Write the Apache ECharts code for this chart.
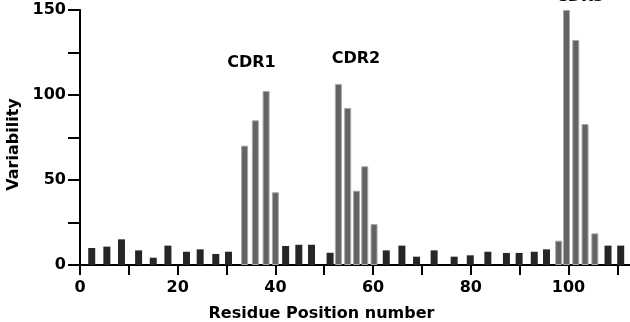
<!DOCTYPE html>
<html>
<head>
<meta charset="utf-8">
<script src="https://cdn.jsdelivr.net/npm/echarts@6/dist/echarts.min.js"></script>
<style>
  html, body { margin: 0; padding: 0; background: #fff; }
  #chart { width: 630px; height: 322px; }
</style>
</head>
<body>
<div id="chart"></div>
<script>
// framework residues (dark bars)
const frameworkPos = [2.4, 5.5, 8.5, 12.0, 15.0, 18.0, 21.8, 24.6, 27.8, 30.4, 42.1, 44.8, 47.4, 51.2,
  62.7, 65.9, 68.9, 72.5, 76.6, 79.9, 83.5, 87.3, 89.9, 93.0, 95.5, 108.1, 110.7];
const frameworkVar = [10.0, 10.8, 15.1, 8.6, 4.3, 11.4, 7.8, 9.2, 6.5, 7.8, 11.2, 11.9, 11.9, 7.2,
  8.6, 11.4, 4.9, 8.6, 4.9, 5.7, 7.8, 7.1, 7.1, 7.8, 9.2, 11.4, 11.4];

// hypervariable residues (grey bars)
const cdrPos = [33.7, 35.9, 38.1, 40.0, 52.9, 54.8, 56.6, 58.3, 60.2, 98.0, 99.6, 101.5, 103.4, 105.4];
const cdrVar = [70.2, 85.1, 102.4, 42.8, 106.5, 92.4, 43.7, 58.1, 24.1, 14.3, 150, 132.4, 82.9, 18.6];

// region labels: name, x, y (data units)
const regionNames = ["CDR1", "CDR2", "CDR3"];
const regionX = [35.1, 56.5, 102.4];
const regionY = [118.8, 121.2, 157.5];

const xTicks = { min: 0, max: 112.6, step: 10, labelStep: 20 };
const yTicks = { min: 0, max: 150, step: 25, labelStep: 50 };

const font = "'DejaVu Sans', sans-serif";
const txt = { fontFamily: font, fontWeight: "bold", fontSize: 16, color: "#000" };
const chart = echarts.init(document.getElementById("chart"));

const pairs = (xs, ys) => xs.map((x, i) => [x, ys[i]]);

chart.setOption({
  animation: false,
  backgroundColor: "#fff",
  grid: { left: 80, right: 0, top: 10, bottom: 57, outerBoundsMode: "none", containLabel: false },
  xAxis: {
    type: "value",
    min: xTicks.min,
    max: xTicks.max,
    interval: xTicks.step,
    name: "Residue Position number",
    nameLocation: "middle",
    nameGap: 41,
    nameTextStyle: Object.assign({}, txt, { padding: [0, 67, 0, 0] }),
    axisLine: { lineStyle: { color: "#000", width: 2 } },
    axisTick: { length: 10, lineStyle: { color: "#000", width: 2 } },
    splitLine: { show: false },
    axisLabel: Object.assign({}, txt, {
      margin: 15,
      formatter: (v) => (v % xTicks.labelStep === 0 ? String(v) : ""),
      showMaxLabel: false
    })
  },
  yAxis: {
    type: "value",
    min: yTicks.min,
    max: yTicks.max,
    interval: yTicks.step,
    name: "Variability",
    nameLocation: "middle",
    nameGap: 55,
    nameTextStyle: Object.assign({}, txt, { padding: [0, 14, 0, 0] }),
    axisLine: { show: true, lineStyle: { color: "#000", width: 2 } },
    axisTick: { show: true, length: 12, lineStyle: { color: "#000", width: 2 } },
    splitLine: { show: false },
    axisLabel: Object.assign({}, txt, {
      margin: 14,
      formatter: (v) => (v % yTicks.labelStep === 0 ? String(v) : "")
    })
  },
  series: [
    {
      name: "framework",
      type: "bar",
      barWidth: 7,
      barGap: "-100%",
      itemStyle: { color: "#262626" },
      data: pairs(frameworkPos, frameworkVar)
    },
    {
      name: "CDR",
      type: "bar",
      barWidth: 7,
      barGap: "-100%",
      itemStyle: { color: "#636363", borderColor: "#a8a8a8", borderWidth: 1 },
      data: pairs(cdrPos, cdrVar)
    }
  ]
});

// region labels placed through the axes (CDR3 sits above the plot area)
chart.setOption({
  graphic: regionNames.map((n, i) => {
    const p = chart.convertToPixel({ gridIndex: 0 }, [regionX[i], regionY[i]]);
    return {
      type: "text",
      x: p[0],
      y: p[1],
      style: { text: n, align: "center", verticalAlign: "middle",
        font: "bold 16px " + font, fill: "#000" }
    };
  })
});
</script>
</body>
</html>
